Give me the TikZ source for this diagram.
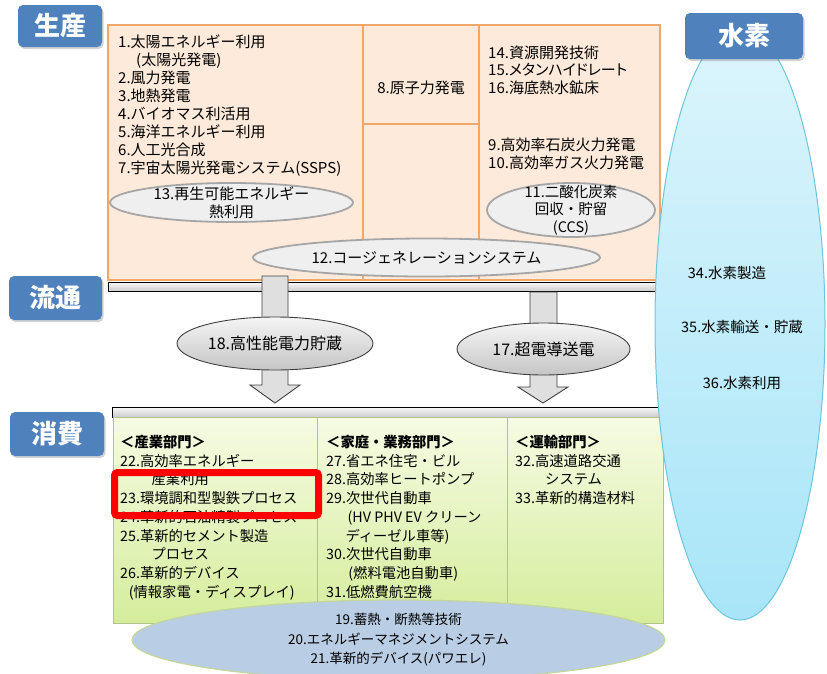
\documentclass[tikz,border=0pt]{standalone}
\usepackage{xcolor}
\usepackage{fontspec}
\setmainfont{Noto Sans CJK JP}
\newfontfamily\kanafont{Noto Sans CJK JP}[RawFeature=+palt]
\usepackage{tikz}
\usetikzlibrary{shapes.geometric,shadows}

\definecolor{tagblue}{HTML}{4F81BD}
\definecolor{peach}{HTML}{FDEADA}
\definecolor{peachline}{HTML}{F0A868}
\definecolor{greentop}{HTML}{F6FBE3}
\definecolor{greenbot}{HTML}{D5ED9C}
\definecolor{greenline}{HTML}{AFC487}
\definecolor{ovalfill}{HTML}{EFEFEF}
\definecolor{ovalline}{HTML}{A6A6A6}
\definecolor{bluefill}{HTML}{B9CDE5}
\definecolor{bluering}{HTML}{C3D69B}
\definecolor{hydrotop}{HTML}{DCF5FC}
\definecolor{hydrobot}{HTML}{A8E5F8}
\definecolor{hydroline}{HTML}{6CC5DC}

\begin{document}
\begin{tikzpicture}[x=1pt, y=-1pt,
    sectag/.style={rectangle, rounded corners=5pt, fill=tagblue, text=white, inner sep=0pt, font=\bfseries\fontsize{26}{26}\selectfont, drop shadow={opacity=0.35, shadow xshift=1.5pt, shadow yshift=-2pt}},
    entry/.style={inner sep=0pt, anchor=base west, font=\fontsize{15}{18}\selectfont},
    gentry/.style={entry, font=\fontsize{14.3}{18}\selectfont},
    oval/.style={ellipse, draw=ovalline, line width=1.8pt, fill=ovalfill, inner sep=0pt},
    flowoval/.style={ellipse, draw=black!75, line width=0.9pt, top color=gray!8, bottom color=gray!45, inner sep=0pt},
    railbar/.style={draw=black, line width=1pt, top color=gray!5, bottom color=gray!40},
    fatarrow/.style={draw=black!75, line width=0.9pt, fill=gray!25},
    caption/.style={inner sep=0pt, align=center, font=\fontsize{15}{17.5}\selectfont}
]
\fill[white] (0,0) rectangle (827,673);
\useasboundingbox (0,0) rectangle (827,673);

\node[sectag, minimum width=84, minimum height=42] (prod) at (60,26) {生産};
\node[sectag, minimum width=93, minimum height=44] (dist) at (55.5,298) {流通};
\node[sectag, minimum width=94, minimum height=44] (cons) at (57,434) {消費};

\draw[peachline, fill=peach, line width=1.2pt] (108,25) rectangle (660,280);
\draw[peachline, line width=1.2pt] (363,25) -- (363,280) (479,25) -- (479,280) (363,124) -- (479,124);
\foreach \words [count=\n from 0] in {1.太陽エネルギー利用, \hspace*{1.2em}(太陽光発電), 2.風力発電, 3.地熱発電, 4.バイオマス利活用, 5.海洋エネルギー利用, 6.人工光合成, 7.宇宙太陽光発電システム(SSPS)}
  \node[entry] (ren\n) at (118, 47.5+18*\n) {\words};
\node[entry, anchor=center] (nuke) at (421,88) {8.原子力発電};
\foreach \words [count=\n from 0] in {14.資源開発技術, {\kanafont 15.メタンハイドレート}, 16.海底熱水鉱床}
  \node[entry] (res\n) at (488, 58+17.5*\n) {\words};
\foreach \words [count=\n from 0] in {9.高効率石炭火力発電, 10.高効率ガス火力発電}
  \node[entry] (fos\n) at (488, 150+18*\n) {\words};

\node[oval, minimum width=243, minimum height=39] (heat) at (231.5,202.5) {};
\node[caption] (heattxt) at (heat) {13.再生可能エネルギー\\熱利用};
\node[oval, minimum width=168, minimum height=54] (ccs) at (571,210) {};
\node[caption, font=\fontsize{14.5}{17.5}\selectfont] (ccstxt) at (ccs) {11.二酸化炭素\\回収・貯留\\(CCS)};
\node[oval, minimum width=347, minimum height=38] (cogen) at (426.5,257.5) {};
\node[caption] (cogentxt) at (cogen) {12.コージェネレーションシステム};

\draw[railbar] (108,282) rectangle (662,291);
\draw[fatarrow] (262,276) -- (288,276) -- (288,385) -- (300,385) -- (275,403) -- (250,385) -- (262,385) -- cycle;
\draw[fatarrow] (530,292) -- (557,292) -- (557,387) -- (568,387) -- (543,403) -- (518,387) -- (530,387) -- cycle;
\node[flowoval, minimum width=196, minimum height=53] (store) at (275,343.5) {};
\node[caption, font=\fontsize{16}{18}\selectfont] (storetxt) at (store) {18.高性能電力貯蔵};
\node[flowoval, minimum width=173, minimum height=52] (supra) at (543.5,349) {};
\node[caption, font=\fontsize{16}{18}\selectfont] (supratxt) at (supra) {17.超電導送電};
\draw[railbar] (112,407) rectangle (662,417);

\path[draw=greenline, line width=0.8pt, top color=greentop, bottom color=greenbot] (113,417) rectangle (663,623);
\draw[greenline, line width=0.8pt] (317,417) -- (317,623) (507,417) -- (507,623);
\foreach \words [count=\n from 0] in {\bfseries ＜産業部門＞, 22.高効率エネルギー, \hspace*{2.2em}産業利用, 23.環境調和型製鉄プロセス, 24.革新的石油精製プロセス, 25.革新的セメント製造, \hspace*{2.2em}プロセス, 26.革新的デバイス, \hspace*{0.6em}(情報家電・ディスプレイ)}
  \node[gentry] (ind\n) at (120, 447.3+18.75*\n) {\words};
\foreach \words [count=\n from 0] in {\bfseries ＜家庭・業務部門＞, 27.省エネ住宅・ビル, 28.高効率ヒートポンプ, 29.次世代自動車, \hspace*{1.5em}(HV PHV EV クリーン, \hspace*{1.35em}ディーゼル車等), 30.次世代自動車, \hspace*{1.55em}(燃料電池自動車), 31.低燃費航空機}
  \node[gentry] (home\n) at (326, 447.3+18.75*\n) {\words};
\foreach \words [count=\n from 0] in {\bfseries ＜運輸部門＞, 32.高速道路交通, \hspace*{2.1em}システム, 33.革新的構造材料}
  \node[gentry] (trans\n) at (515, 447.3+18.75*\n) {\words};

\node[ellipse, draw=bluering, line width=1.2pt, fill=bluefill, minimum width=533, minimum height=80, inner sep=0pt] (base) at (398.5,640) {};
\node[caption, font=\fontsize{13.5}{19.5}\selectfont] (basetxt) at (base) {19.蓄熱・断熱等技術\\20.エネルギーマネジメントシステム\\21.革新的デバイス(パワエレ)};

\node[ellipse, draw=hydroline, line width=1pt, top color=hydrotop, bottom color=hydrobot, minimum width=170, minimum height=592, inner sep=0pt] (hydro) at (740,324) {};
\node[entry, anchor=center, font=\fontsize{14.5}{18}\selectfont] (h2make) at (727,273) {34.水素製造};
\node[entry, anchor=center, font=\fontsize{14.5}{18}\selectfont] (h2move) at (742,327) {35.水素輸送・貯蔵};
\node[entry, anchor=center, font=\fontsize{14.5}{18}\selectfont] (h2use) at (742,383) {36.水素利用};
\node[sectag, minimum width=118, minimum height=46] (hydrotag) at (744,36) {水素};

\draw[red, line width=7pt, rounded corners=3pt] (114.5,472.5) rectangle (318.5,515.5);
\end{tikzpicture}
\end{document}
